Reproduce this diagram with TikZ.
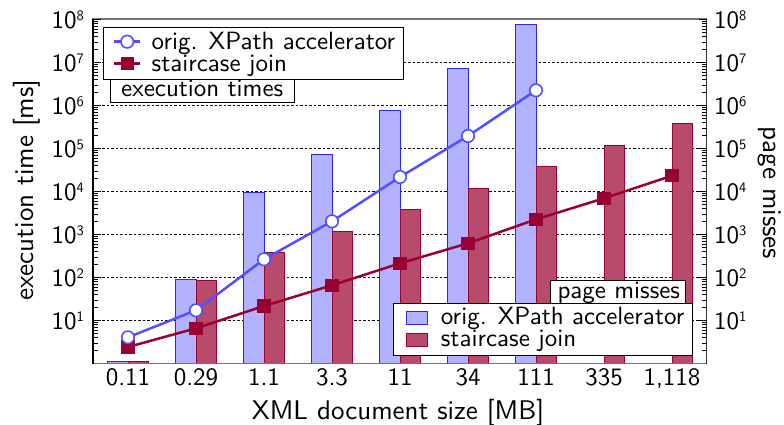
\documentclass[tikz,border=0pt]{standalone}
\usepackage{fontspec}
\setsansfont{lmsans10-regular.otf}
\definecolor{bfill}{RGB}{178,178,255}
\definecolor{bedge}{RGB}{40,40,245}
\definecolor{blinec}{RGB}{80,80,255}
\definecolor{rfill}{RGB}{184,74,107}
\definecolor{redge}{RGB}{153,0,51}
\definecolor{rlinec}{RGB}{153,0,51}
\newcommand{\sps}[1]{\raisebox{8.3pt}{\fontsize{14.5}{14.5}\selectfont #1}}
\begin{document}
\begin{tikzpicture}[x=1pt,y=-1pt,
  declare function={ly(\d)=363.5-43*\d;},
  font=\sffamily\fontsize{25}{30}\selectfont,
  every node/.style={inner sep=0pt},
  axlab/.style={font=\sffamily\fontsize{27}{32}\selectfont},
  barB/.style={fill=bfill,draw=bedge,line width=1pt},
  barR/.style={fill=rfill,draw=redge,line width=1pt},
  gridln/.style={line width=0.8pt,dash pattern=on 2.5pt off 2pt},
  tickln/.style={line width=0.9pt},
  bl/.style={blinec,line width=2.5pt},
  rl/.style={rlinec,line width=2.5pt},
  omark/.style={circle,draw=blinec,fill=white,line width=1.6pt,minimum size=12.5pt},
  smark/.style={rectangle,fill=rlinec,minimum size=13.3pt},
  legbox/.style={draw=black,fill=white,line width=1pt},
  patchB/.style={fill=bfill,draw=bedge,line width=1pt},
  patchR/.style={fill=rfill,draw=redge,line width=1pt}]
\useasboundingbox (0,0) rectangle (784,424);
% grid
\foreach \d in {1,...,7}
  \draw[gridln] (93,{ly(\d)}) -- (706.5,{ly(\d)});
% bars (page misses, log10 values)
\foreach \i/\b/\r in {0/0.04/0.05, 1/1.965/1.926, 2/3.988/2.593, 3/4.856/3.065,
    4/5.879/3.586, 5/6.849/4.065, 6/7.895/4.593, 7/0.01/5.065, 8/0.01/5.586} {
  \draw[barB] ({128+68*\i-20.7},363.5) rectangle ({128+68*\i},{ly(\b)});
  \draw[barR] ({128+68*\i},363.5) rectangle ({128+68*\i+20.7},{ly(\r)});
}
% execution time lines
\foreach \i/\d in {0/0.609,1/1.237,2/2.423,3/3.307,4/4.337,5/5.291,6/6.353}
  \coordinate (b\i) at ({128+68*\i},{ly(\d)});
\foreach \i/\d in {0/0.384,1/0.819,2/1.337,3/1.819,4/2.33,5/2.795,6/3.353,7/3.842,8/4.367}
  \coordinate (r\i) at ({128+68*\i},{ly(\d)});
\draw[rl] (r0) \foreach \i in {1,...,8} { -- (r\i) };
\draw[bl] (b0) \foreach \i in {1,...,6} { -- (b\i) };
\foreach \i in {0,...,8} \node[smark] (rm\i) at (r\i) {};
\foreach \i in {0,...,6} \node[omark] (bm\i) at (b\i) {};
% frame
\draw[black!55,line width=1.1pt] (93,19) rectangle (706.5,363.5);
\draw[black,line width=1.1pt] (93,19) -- (93,363.5);
\draw[black!80,line width=1.1pt] (706.5,19) -- (706.5,363.5);
% ticks
\foreach \d in {0,...,7} {
  \foreach \m in {2,...,9} {
    \draw[tickln] (93,{ly(\d+log10(\m))}) -- ++(4.5,0);
    \draw[tickln] (706.5,{ly(\d+log10(\m))}) -- ++(-4.5,0);
  }
}
\foreach \d in {1,...,8} {
  \draw[tickln] (93,{ly(\d)}) -- ++(7.5,0);
  \draw[tickln] (706.5,{ly(\d)}) -- ++(-7.5,0);
  \node[anchor=base east] (yl\d) at (84,{ly(\d)+8.8}) {10\sps{\d}};
  \node[anchor=base west] (yr\d) at (714,{ly(\d)+8.8}) {10\sps{\d}};
}
% x tick labels
\foreach \i/\t in {0/0.11,1/0.29,2/1.1,3/3.3,4/11,5/34,6/111,7/335,8/{1,118}}
  \node[anchor=base] (xl\i) at ({128+68*\i},385) {\t};
% axis labels
\node[axlab,anchor=base] (xlab) at (398,419) {XML document size [MB]};
\node[axlab,anchor=base,rotate=90] (ylab) at (33,190) {execution time [ms]};
\node[axlab,anchor=base,rotate=-90] (y2lab) at (763,193) {page misses};
% legend: execution times
\draw[legbox] (103.3,27.3) rectangle (403.3,79.3);
\draw[legbox] (110,79.3) rectangle (294.7,102.3);
\coordinate (la1) at (114.3,41.7); \coordinate (lb1) at (140,41.7);
\coordinate (la2) at (114.3,63.3); \coordinate (lb2) at (140,63.3);
\draw[bl] (la1) -- (lb1);
\draw[rl] (la2) -- (lb2);
\node[omark] (lm1) at (127.2,41.7) {};
\node[smark] (lm2) at (127.2,63.3) {};
\node[anchor=base west] (lt1) at (151.5,49.3) {orig. XPath accelerator};
\node[anchor=base west] (lt2) at (151.5,71) {staircase join};
\node[anchor=base west] (lt3) at (121,96) {execution times};
% legend: page misses
\draw[legbox] (393.3,303.3) rectangle (692.3,355);
\draw[legbox] (550,280) rectangle (685.7,303.3);
\node[anchor=base west] (pt0) at (557.3,298.3) {page misses};
\draw[patchB] (406.7,311.7) rectangle (427.3,324.3);
\draw[patchR] (406.7,333.3) rectangle (427.3,346.7);
\node[anchor=base west] (pt1) at (440.7,324) {orig. XPath accelerator};
\node[anchor=base west] (pt2) at (440.7,346.7) {staircase join};
\end{tikzpicture}
\end{document}
